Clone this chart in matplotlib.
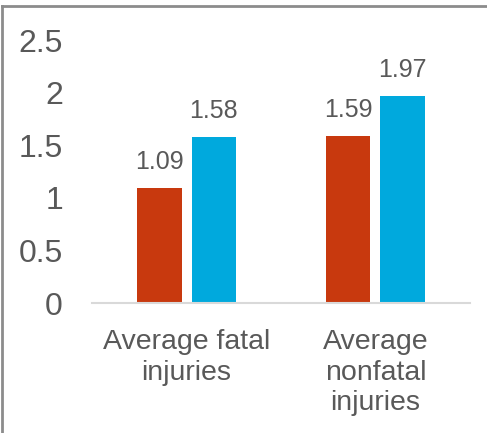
import numpy as np
import matplotlib.pyplot as plt
from matplotlib.lines import Line2D

plt.rcParams['font.family'] = ['Liberation Sans', 'DejaVu Sans']

categories = ['Average fatal\ninjuries', 'Average\nnonfatal\ninjuries']
series_a = [1.09, 1.59]
series_b = [1.58, 1.97]
colors = ['#C8390E', '#00A9DD']
text_gray = '#595959'

fig = plt.figure(figsize=(4.87, 4.33), dpi=100)
ax = fig.add_axes([0.189, 0.3002, 0.776, 0.6074])

x = np.arange(len(categories))
w = 0.233
off = 0.143
bars_a = ax.bar(x - off, series_a, w, color=colors[0])
bars_b = ax.bar(x + off, series_b, w, color=colors[1])

for bars, vals in ((bars_a, series_a), (bars_b, series_b)):
    for b, v in zip(bars, vals):
        ax.annotate(f'{v:.2f}', (b.get_x() + b.get_width() / 2, v),
                    xytext=(0, 10), textcoords='offset points',
                    ha='center', va='bottom', fontsize=18, color=text_gray)

ax.set_xlim(-0.5, 1.5)
ax.set_ylim(0, 2.5)
ax.set_yticks([0, 0.5, 1, 1.5, 2, 2.5])
ax.set_yticklabels(['0', '0.5', '1', '1.5', '2', '2.5'])
ax.set_xticks(x)
ax.set_xticklabels(categories, fontsize=20.5, color=text_gray, linespacing=1.22)
ax.tick_params(axis='y', length=0, pad=21, labelsize=23, labelcolor=text_gray)
ax.tick_params(axis='x', length=0, pad=19)

for s in ('left', 'right', 'top'):
    ax.spines[s].set_visible(False)
ax.spines['bottom'].set_color('#D9D9D9')
ax.spines['bottom'].set_linewidth(1.5)

# frame on the left and top edges of the figure
fig.add_artist(Line2D([2 / 487, 2 / 487], [0, 1 - 6 / 433], color='#8C8C8C', lw=2))
fig.add_artist(Line2D([2 / 487, 1], [1 - 6 / 433, 1 - 6 / 433], color='#8C8C8C', lw=2))

fig.savefig('out.png', dpi=100)
